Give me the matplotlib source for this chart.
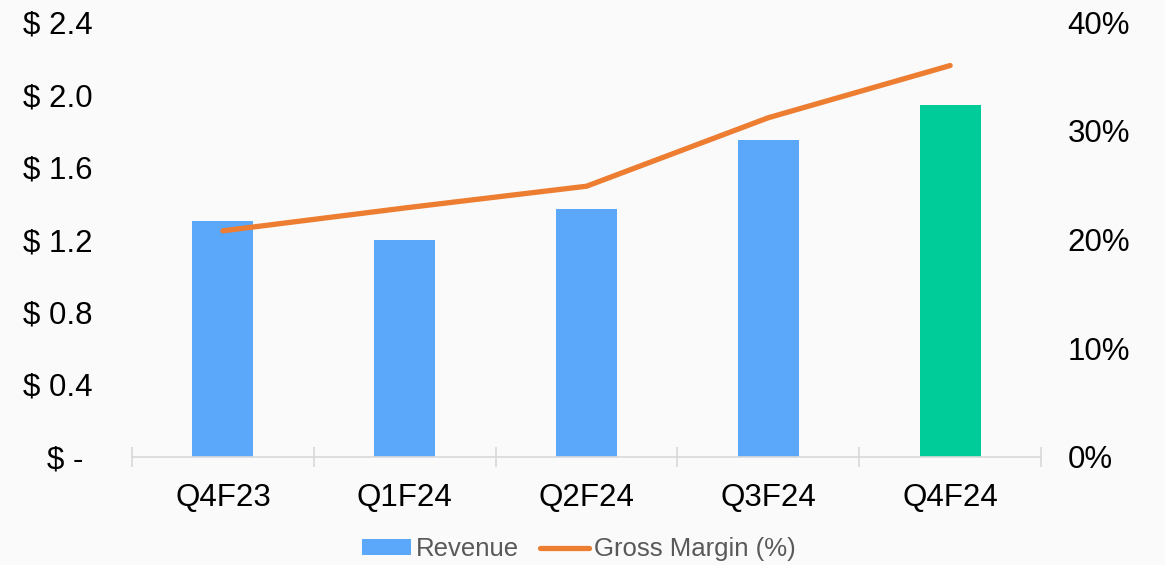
import matplotlib.pyplot as plt
from matplotlib.ticker import FixedLocator
import numpy as np

# data
quarters = ["Q4F23", "Q1F24", "Q2F24", "Q3F24", "Q4F24"]
revenue = [1.30, 1.20, 1.37, 1.75, 1.94]          # $ billions
gross_margin = [20.8, 22.9, 24.9, 31.2, 36.0]     # percent
bar_colors = ["#5BA7FA", "#5BA7FA", "#5BA7FA", "#5BA7FA", "#00CC99"]
left_ticks = [0, 0.4, 0.8, 1.2, 1.6, 2.0, 2.4]
left_labels = ["$ - ", "$ 0.4", "$ 0.8", "$ 1.2", "$ 1.6", "$ 2.0", "$ 2.4"]
right_ticks = [0, 10, 20, 30, 40]
right_labels = ["0%", "10%", "20%", "30%", "40%"]

plt.rcParams['font.family'] = ['Liberation Sans', 'DejaVu Sans']
bg = "#FAFAFA"

fig = plt.figure(figsize=(11.65, 5.65), dpi=100, facecolor=bg)
ax = fig.add_axes([0.1133, 0.1912, 0.7803, 0.7698])
ax.set_facecolor(bg)
x = np.arange(len(quarters))

bars = ax.bar(x, revenue, width=0.335, color=bar_colors, label="Revenue", zorder=2)
ax.set_ylim(0, 2.4)
ax.set_xlim(-0.5, len(quarters) - 0.5)
ax.set_yticks(left_ticks)
ax.set_yticklabels(left_labels)
ax.tick_params(axis='y', length=0, pad=28.5, labelsize=22.5, colors="#000000")

ax.set_xticks(x)
ax.set_xticklabels(quarters)
ax.tick_params(axis='x', which='major', length=0, pad=19, labelsize=22.5)
ax.xaxis.set_minor_locator(FixedLocator(np.arange(-0.5, len(quarters), 1.0)))
ax.tick_params(axis='x', which='minor', direction='inout', length=14, width=1.2, color="#D9D9D9")

for s in ['top', 'left', 'right']:
    ax.spines[s].set_visible(False)
ax.spines['bottom'].set_color("#D9D9D9")
ax.spines['bottom'].set_linewidth(1.2)

ax2 = ax.twinx()
line, = ax2.plot(x, gross_margin, color="#ED7D31", linewidth=3.8,
                 solid_capstyle='round', solid_joinstyle='round',
                 label="Gross Margin (%)", zorder=3)
ax2.set_ylim(0, 40)
ax2.set_yticks(right_ticks)
ax2.set_yticklabels(right_labels)
ax2.tick_params(axis='y', length=0, pad=19, labelsize=22.5)
for s in ax2.spines.values():
    s.set_visible(False)

leg = fig.legend([bars, line], ["Revenue", "Gross Margin (%)"], loc='center',
                 bbox_to_anchor=(0.497, 0.028), ncol=2, frameon=False,
                 fontsize=18.5, handlelength=1.9, handleheight=0.55,
                 handletextpad=0.2, columnspacing=0.8)
for t in leg.get_texts():
    t.set_color("#595959")

fig.savefig("out.png", dpi=100, facecolor=bg)
